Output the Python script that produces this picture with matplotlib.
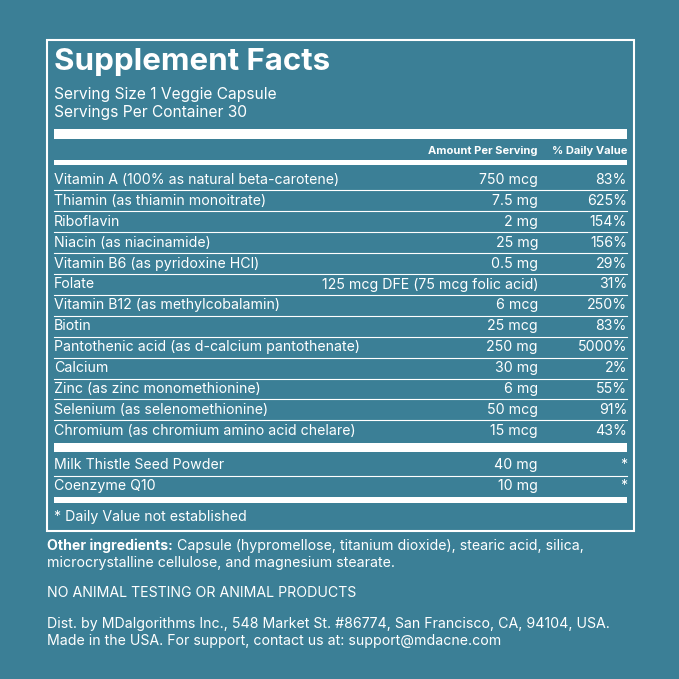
import matplotlib.pyplot as plt

BG = '#3b7f96'
FG = 'white'

nutrients = ['Vitamin A (100% as natural beta-carotene)', 'Thiamin (as thiamin monoitrate)',
             'Riboflavin', 'Niacin (as niacinamide)', 'Vitamin B6 (as pyridoxine HCl)', 'Folate',
             'Vitamin B12 (as methylcobalamin)', 'Biotin', 'Pantothenic acid (as d-calcium pantothenate)',
             'Calcium', 'Zinc (as zinc monomethionine)', 'Selenium (as selenomethionine)',
             'Chromium (as chromium amino acid chelare)']
amounts = ['750 mcg', '7.5 mg', '2 mg', '25 mg', '0.5 mg', '125 mcg DFE (75 mcg folic acid)',
           '6 mcg', '25 mcg', '250 mg', '30 mg', '6 mg', '50 mcg', '15 mcg']
daily = ['83%', '625%', '154%', '156%', '29%', '31%', '250%', '83%', '5000%', '2%', '55%', '91%', '43%']
others = ['Milk Thistle Seed Powder', 'Coenzyme Q10']
other_amounts = ['40 mg', '10 mg']

plt.rcParams['font.family'] = ['Inter', 'DejaVu Sans']
FS = 10.2
fig = plt.figure(figsize=(6.79, 6.79), dpi=100, facecolor=BG)
ax = fig.add_axes([0, 0, 1, 1])
ax.set_xlim(0, 679); ax.set_ylim(679, 0); ax.axis('off')
ax.set_facecolor(BG)

L, R = 54, 627
ax.add_patch(plt.Rectangle((47, 40), 587, 491, fill=False, ec=FG, lw=1.5))
ax.text(L, 62, 'Supplement Facts', color=FG, fontsize=22.5, fontweight='bold', va='center')
ax.text(L, 94, 'Serving Size 1 Veggie Capsule', color=FG, fontsize=11.2, va='center')
ax.text(L, 112, 'Servings Per Container 30', color=FG, fontsize=11.2, va='center')

def bar(y0, y1):
    ax.add_patch(plt.Rectangle((L, y0), R - L, y1 - y0, color=FG, lw=0))

def hline(y):
    ax.plot([L, R], [y, y], color=FG, lw=0.8)

bar(129, 139)
ax.text(538, 151, 'Amount Per Serving', color=FG, fontsize=8, fontweight='bold', ha='right', va='center')
ax.text(R, 151, '% Daily Value', color=FG, fontsize=8, fontweight='bold', ha='right', va='center')
bar(160, 165)

y0, dy = 180, 20.9
for i, (n, a, d) in enumerate(zip(nutrients, amounts, daily)):
    y = y0 + i * dy
    ax.text(L, y, n, color=FG, fontsize=FS, va='center')
    ax.text(538, y, a, color=FG, fontsize=FS, va='center', ha='right')
    ax.text(R, y, d, color=FG, fontsize=FS, va='center', ha='right')
    if i < len(nutrients) - 1:
        hline(y + dy / 2)
bar(443, 452)
for i, (n, a) in enumerate(zip(others, other_amounts)):
    y = 465 + i * 21
    ax.text(L, y, n, color=FG, fontsize=FS, va='center')
    ax.text(538, y, a, color=FG, fontsize=FS, va='center', ha='right')
    ax.text(R, y, '*', color=FG, fontsize=FS, va='center', ha='right')
hline(475.5)
bar(497, 503)
ax.text(L, 517, '* Daily Value not established', color=FG, fontsize=FS, va='center')

lbl = ax.text(47, 546, 'Other ingredients:', color=FG, fontsize=FS, fontweight='bold', va='center')
ax.annotate(' Capsule (hypromellose, titanium dioxide), stearic acid, silica,',
            xy=(1, 0.5), xycoords=lbl, color=FG, fontsize=FS, va='center')
ax.text(47, 563, 'microcrystalline cellulose, and magnesium stearate.', color=FG, fontsize=FS, va='center')
ax.text(47, 593, 'NO ANIMAL TESTING OR ANIMAL PRODUCTS', color=FG, fontsize=FS, va='center')
ax.text(47, 624, 'Dist. by MDalgorithms Inc., 548 Market St. #86774, San Francisco, CA, 94104, USA.',
        color=FG, fontsize=FS, va='center')
ax.text(47, 641, 'Made in the USA. For support, contact us at: support@mdacne.com',
        color=FG, fontsize=FS, va='center')

fig.savefig('out.png', dpi=100, facecolor=BG)
